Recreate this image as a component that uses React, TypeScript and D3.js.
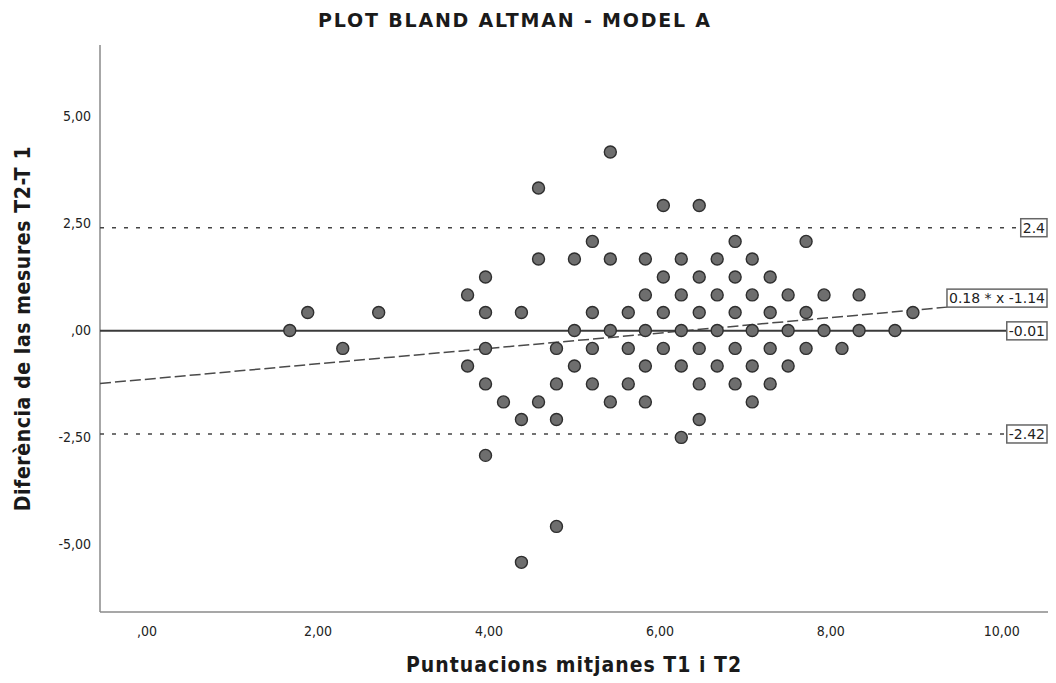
import React, { useEffect, useRef } from "react";
import * as d3 from "d3";

// Mean of T1 and T2 (x) and difference T2 - T1 (y)
const meanScores: number[] = [
  1.67, 1.88, 2.29, 2.71,
  3.75, 3.75,
  3.96, 3.96, 3.96, 3.96, 3.96,
  4.17,
  4.38, 4.38, 4.38,
  4.58, 4.58, 4.58,
  4.79, 4.79, 4.79, 4.79,
  5.0, 5.0, 5.0,
  5.21, 5.21, 5.21, 5.21,
  5.42, 5.42, 5.42, 5.42,
  5.63, 5.63, 5.63,
  5.83, 5.83, 5.83, 5.83, 5.83,
  6.04, 6.04, 6.04, 6.04,
  6.25, 6.25, 6.25, 6.25, 6.25,
  6.46, 6.46, 6.46, 6.46, 6.46, 6.46,
  6.67, 6.67, 6.67, 6.67,
  6.88, 6.88, 6.88, 6.88, 6.88,
  7.08, 7.08, 7.08, 7.08, 7.08,
  7.29, 7.29, 7.29, 7.29,
  7.5, 7.5, 7.5,
  7.71, 7.71, 7.71,
  7.92, 7.92,
  8.13,
  8.33, 8.33,
  8.75,
  8.96,
];
const diffScores: number[] = [
  0.0, 0.42, -0.42, 0.42,
  0.83, -0.83,
  1.25, 0.42, -0.42, -1.25, -2.92,
  -1.67,
  0.42, -2.08, -5.42,
  3.33, 1.67, -1.67,
  -0.42, -1.25, -2.08, -4.58,
  1.67, 0.0, -0.83,
  2.08, 0.42, -0.42, -1.25,
  4.17, 1.67, 0.0, -1.67,
  0.42, -0.42, -1.25,
  1.67, 0.83, 0.0, -0.83, -1.67,
  2.92, 1.25, 0.42, -0.42,
  1.67, 0.83, 0.0, -0.83, -2.5,
  2.92, 1.25, 0.42, -0.42, -1.25, -2.08,
  1.67, 0.83, 0.0, -0.83,
  2.08, 1.25, 0.42, -0.42, -1.25,
  1.67, 0.83, 0.0, -0.83, -1.67,
  1.25, 0.42, -0.42, -1.25,
  0.83, 0.0, -0.83,
  2.08, 0.42, -0.42,
  0.83, 0.0,
  -0.42,
  0.83, 0.0,
  0.0,
  0.42,
];

const xTicks: number[] = [0, 2, 4, 6, 8, 10];
const yTicks: number[] = [-5, -2.5, 0, 2.5, 5];
const xDomain: [number, number] = [-0.55, 10.54];
const yDomain: [number, number] = [-6.58, 6.67];

const meanDiff = -0.01;
const upperLoA = 2.4;
const lowerLoA = -2.42;
const regSlope = 0.18;
const regIntercept = -1.14;

const titleText = "PLOT BLAND ALTMAN - MODEL A";
const xTitle = "Puntuacions mitjanes T1 i T2";
const yTitle = "Diferència de las mesures T2-T 1";
const regLabel = "0.18 * x -1.14";
const upperLabel = "2.4";
const meanLabel = "-0.01";
const lowerLabel = "-2.42";

const W = 1056;
const H = 683;
const plotLeft = 100;
const plotRight = 1048;
const plotTop = 45;
const plotBottom = 612;

const fmt = (v: number) => {
  if (v === 0) return ",00";
  return v.toFixed(2).replace(".", ",");
};

const condensed = "'DejaVu Sans Condensed', 'DejaVu Sans', sans-serif";
const plain = "'DejaVu Sans', sans-serif";
const labelSize = 14;

export default function App() {
  const ref = useRef<SVGSVGElement | null>(null);

  useEffect(() => {
    const svg = d3.select(ref.current);
    svg.selectAll("*").remove();

    const x = d3.scaleLinear().domain(xDomain).range([plotLeft, plotRight]);
    const y = d3.scaleLinear().domain(yDomain).range([plotBottom, plotTop]);

    svg.append("rect").attr("width", W).attr("height", H).attr("fill", "#fff");

    // Title
    svg
      .append("text")
      .attr("x", 515)
      .attr("y", 27)
      .attr("text-anchor", "middle")
      .attr("font-family", plain)
      .attr("font-weight", "bold")
      .attr("font-size", 19)
      .attr("letter-spacing", 1.8)
      .attr("fill", "#1a1a1a")
      .text(titleText);

    // Axes lines
    svg
      .append("line")
      .attr("x1", plotLeft)
      .attr("x2", plotLeft)
      .attr("y1", plotTop)
      .attr("y2", plotBottom)
      .attr("stroke", "#8a8a8a")
      .attr("stroke-width", 1.5);
    svg
      .append("line")
      .attr("x1", plotLeft)
      .attr("x2", plotRight)
      .attr("y1", plotBottom)
      .attr("y2", plotBottom)
      .attr("stroke", "#8a8a8a")
      .attr("stroke-width", 1.5);

    // Tick labels
    svg
      .append("g")
      .selectAll("text")
      .data(xTicks)
      .join("text")
      .attr("x", (d) => x(d))
      .attr("y", 636)
      .attr("text-anchor", "middle")
      .attr("font-family", condensed)
      .attr("font-size", 14)
      .attr("fill", "#222")
      .text((d) => fmt(d));

    svg
      .append("g")
      .selectAll("text")
      .data(yTicks)
      .join("text")
      .attr("x", 91)
      .attr("y", (d) => y(d) + 5)
      .attr("text-anchor", "end")
      .attr("font-family", condensed)
      .attr("font-size", 14)
      .attr("fill", "#222")
      .text((d) => fmt(d));

    // Axis titles
    svg
      .append("text")
      .attr("x", (plotLeft + plotRight) / 2)
      .attr("y", 672)
      .attr("text-anchor", "middle")
      .attr("font-family", condensed)
      .attr("font-weight", "bold")
      .attr("font-size", 21)
      .attr("letter-spacing", 1)
      .attr("fill", "#1a1a1a")
      .text(xTitle);

    svg
      .append("text")
      .attr("transform", `translate(30, ${(plotTop + plotBottom) / 2}) rotate(-90)`)
      .attr("text-anchor", "middle")
      .attr("font-family", condensed)
      .attr("font-weight", "bold")
      .attr("font-size", 21)
      .attr("letter-spacing", 0.6)
      .attr("fill", "#1a1a1a")
      .text(yTitle);

    const boxRight = 1047;
    const bh = 18;
    const measure = (txt: string) => {
      const t = svg
        .append("text")
        .attr("font-family", plain)
        .attr("font-size", labelSize)
        .text(txt);
      const w = (t.node() as SVGTextElement).getComputedTextLength();
      t.remove();
      return w + 4;
    };

    const linesG = svg.append("g");
    const pointsG = svg.append("g");
    const labelsG = svg.append("g");

    const drawBox = (txt: string, bx: number, by: number, bw: number) => {
      const g = labelsG.append("g");
      g.append("rect")
        .attr("x", bx)
        .attr("y", by)
        .attr("width", bw)
        .attr("height", bh)
        .attr("fill", "#fff")
        .attr("stroke", "#666")
        .attr("stroke-width", 1.5);
      g.append("text")
        .attr("x", bx + 2)
        .attr("y", by + 14)
        .attr("font-family", plain)
        .attr("font-size", labelSize)
        .attr("fill", "#222")
        .text(txt);
    };

    // Regression line
    const regW = measure(regLabel);
    const regEndX = boxRight - regW;
    const regEndV = x.invert(regEndX);
    const regData: [number, number][] = [
      [xDomain[0], regSlope * xDomain[0] + regIntercept],
      [regEndV, regSlope * regEndV + regIntercept],
    ];
    linesG
      .append("path")
      .attr(
        "d",
        d3
          .line<[number, number]>()
          .x((d) => x(d[0]))
          .y((d) => y(d[1]))(regData)
      )
      .attr("fill", "none")
      .attr("stroke", "#4a4a4a")
      .attr("stroke-width", 1.5)
      .attr("stroke-dasharray", "11,4");

    const hLines: { v: number; label: string; dash: string | null; w: number; c: string }[] = [
      { v: upperLoA, label: upperLabel, dash: "4,8", w: 1.5, c: "#444" },
      { v: meanDiff, label: meanLabel, dash: null, w: 2, c: "#3a3a3a" },
      { v: lowerLoA, label: lowerLabel, dash: "4,8", w: 1.5, c: "#444" },
    ];

    hLines.forEach((h) => {
      const bw = measure(h.label);
      const ln = linesG
        .append("line")
        .attr("x1", plotLeft)
        .attr("x2", boxRight - bw)
        .attr("y1", y(h.v))
        .attr("y2", y(h.v))
        .attr("stroke", h.c)
        .attr("stroke-width", h.w);
      if (h.dash) ln.attr("stroke-dasharray", h.dash);
      drawBox(h.label, boxRight - bw, y(h.v) - bh / 2, bw);
    });

    drawBox(regLabel, regEndX, y(regSlope * regEndV + regIntercept) - bh, regW);

    // Points
    const pts = meanScores.map((m, i) => [m, diffScores[i]] as [number, number]);
    pointsG
      .selectAll("circle")
      .data(pts)
      .join("circle")
      .attr("cx", (d) => x(d[0]))
      .attr("cy", (d) => y(d[1]))
      .attr("r", 6)
      .attr("fill", "#6e6e6e")
      .attr("stroke", "#2e2e2e")
      .attr("stroke-width", 1.4);
  }, []);

  return (
    <svg
      ref={ref}
      width={W}
      height={H}
      style={{ position: "absolute", left: 0, top: 0, display: "block" }}
    />
  );
}
